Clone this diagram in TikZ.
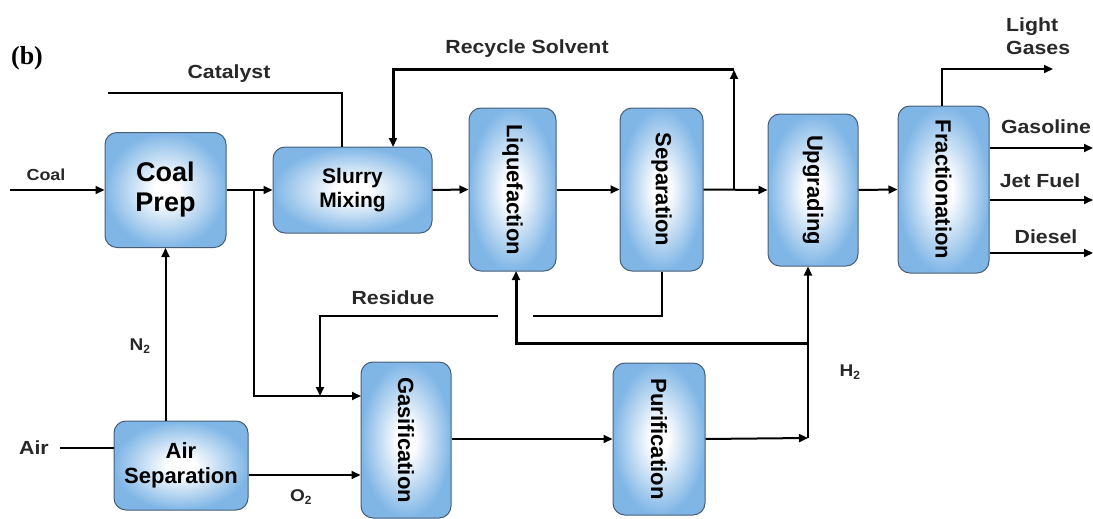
\documentclass[tikz,border=0pt]{standalone}
\usepackage{fontspec}
\setmainfont{Liberation Sans}
\newfontfamily\labfont{Liberation Sans}[FakeStretch=1.12]
\newfontfamily\serifb{Liberation Serif}
\usetikzlibrary{arrows.meta,calc}
\definecolor{boxblue}{RGB}{128,182,230}
\definecolor{boxborder}{RGB}{70,95,120}
\definecolor{labelgray}{RGB}{40,40,40}
\pgfdeclareradialshading{boxshade}{\pgfpoint{0bp}{0bp}}{color(0bp)=(white); color(5bp)=(white); color(25bp)=(boxblue); color(50bp)=(boxblue)}
\tikzset{
  unit/.style={rectangle, rounded corners=12pt, draw=boxborder, line width=1pt, shading=boxshade, align=center, inner sep=0pt},
  flow/.style={line width=2pt, draw=black},
  arr/.style={flow, -{Triangle[length=9pt,width=8pt]}},
  thickflow/.style={line width=3pt},
  lab/.style={font=\labfont\bfseries\fontsize{19}{21}\selectfont, text=labelgray, inner sep=0pt},
}
\newcommand{\rt}[1]{\rotatebox{-90}{#1}}
\begin{document}
\begin{tikzpicture}[x=1pt,y=-1pt]
\useasboundingbox (0,0) rectangle (1093,519);
% boxes
\node[unit, minimum width=121pt, minimum height=115pt, font=\bfseries\fontsize{27}{30}\selectfont] (cp) at (165.5,190) {Coal\\Prep};
\node[unit, minimum width=159pt, minimum height=86pt, font=\bfseries\fontsize{21}{24}\selectfont] (sm) at (352.5,190) {Slurry\\Mixing};
\node[unit, minimum width=87pt, minimum height=163pt, font=\bfseries\fontsize{22}{24}\selectfont] (lq) at (512.5,189.5) {\rt{Liquefaction}};
\node[unit, minimum width=83pt, minimum height=163pt, font=\bfseries\fontsize{22}{24}\selectfont] (sp) at (661.5,189.5) {\rt{Separation}};
\node[unit, minimum width=90pt, minimum height=152pt, font=\bfseries\fontsize{22}{24}\selectfont] (up) at (813,190) {\rt{Upgrading}};
\node[unit, minimum width=91pt, minimum height=167pt, font=\bfseries\fontsize{22}{24}\selectfont] (fr) at (943.5,189.5) {\rt{Fractionation}};
\node[unit, minimum width=134pt, minimum height=89pt, font=\bfseries\fontsize{22}{25}\selectfont] (as) at (181,465.5) {Air\\Separation};
\node[unit, minimum width=90pt, minimum height=156pt, font=\bfseries\fontsize{22}{24}\selectfont] (ga) at (406,440) {\rt{Gasification}};
\node[unit, minimum width=92pt, minimum height=152pt, font=\bfseries\fontsize{22}{24}\selectfont] (pu) at (659,439) {\rt{Purification}};
% coordinates
\coordinate (coalin) at (10,190);
\coordinate (j1) at (254,190);
\coordinate (gain) at (361,396);
\coordinate (res1) at (498,316);
\coordinate (res2) at (320,396);
\coordinate (res0) at (533,316);
\coordinate (cat) at (108,93);
\coordinate (catin) at (342,147);
\coordinate (j2) at (734,190);
\coordinate (rtop) at (734,70);
\coordinate (rin) at (393,147);
\coordinate (lg) at (1053,69);
\coordinate (gas) at (1093,148);
\coordinate (jet) at (1093,200);
\coordinate (die) at (1093,253);
\coordinate (airin) at (60,448);
\coordinate (o2y) at (0,475);
\coordinate (h2j) at (808,438);
\coordinate (h2b) at (808,343);
\coordinate (lqin) at (516,271);
% connectors
\draw[arr] (coalin) -- (cp.west);
\draw[arr] (cp.east) -- (sm.west);
\draw[arr] (j1) |- (gain);
\draw[arr] (res1) -| (res2);
\draw[flow] (sp.south) |- (res0);
\draw[flow] (cat) -| (catin);
\draw[arr] (j2) -- (rtop);
\draw[flow, thickflow, -{Triangle[length=9pt,width=8pt]}] (rtop) -| (rin);
\draw[arr] (sm.east) -- (lq.west);
\draw[arr] (lq.east) -- (sp.west);
\draw[arr] (sp.east) -- (up.west);
\draw[arr] (up.east) -- (fr.west);
\draw[arr] (fr.north -| 942,0) |- (lg);
\draw[arr] (fr.east |- gas) -- (gas);
\draw[arr] (fr.east |- jet) -- (jet);
\draw[arr] (fr.east |- die) -- (die);
\draw[flow] (airin) -- (as.west |- airin);
\draw[arr] (as.north -| cp.south) -- (cp.south);
\draw[arr] (as.east |- o2y) -- (ga.west |- o2y);
\draw[arr] (ga.east |- pu.west) -- (pu.west);
\draw[arr] (pu.east) -- (h2j);
\draw[arr] (h2j) -- (h2j |- up.south);
\draw[flow, thickflow, -{Triangle[length=9pt,width=8pt]}] (h2b) -| (lqin);
% labels
\node[font=\serifb\bfseries\fontsize{26}{28}\selectfont, inner sep=0pt] (b) at (27,58) {(b)};
\node[lab] (lcat) at (229,74) {Catalyst};
\node[lab] (lrs) at (527,49) {Recycle Solvent};
\node[lab, font=\labfont\bfseries\fontsize{16}{18}\selectfont] (lcoal) at (46,175) {Coal};
\node[lab] (lres) at (393,298) {Residue};
\node[lab, font=\labfont\bfseries\fontsize{19}{21}\selectfont] (lair) at (34,448) {Air};
\node[lab, font=\labfont\bfseries\fontsize{17}{19}\selectfont] (ln2) at (140,346) {N$_\mathbf{2}$};
\node[lab, font=\labfont\bfseries\fontsize{17}{19}\selectfont] (lo2) at (301,497) {O$_\mathbf{2}$};
\node[lab, font=\labfont\bfseries\fontsize{17}{19}\selectfont] (lh2) at (850,372) {H$_\mathbf{2}$};
\node[lab, align=left, anchor=west, font=\labfont\bfseries\fontsize{19}{23}\selectfont] (llg) at (1006,36) {Light\\Gases};
\node[lab] (lgas) at (1046,127) {Gasoline};
\node[lab] (ljet) at (1040,181) {Jet Fuel};
\node[lab] (ldie) at (1046,237) {Diesel};
\end{tikzpicture}
\end{document}
